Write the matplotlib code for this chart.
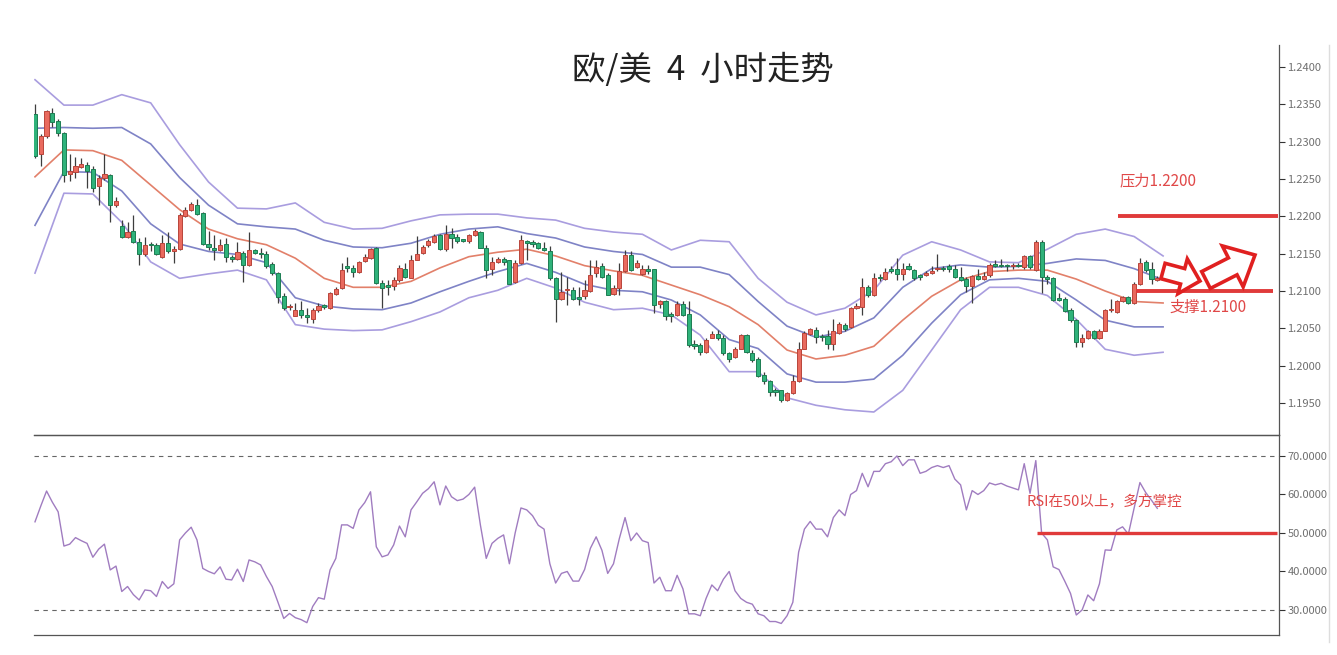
import matplotlib
matplotlib.use("Agg")
import matplotlib.pyplot as plt
import numpy as np
from matplotlib.patches import FancyArrow
from matplotlib.lines import Line2D

plt.rcParams['font.family'] = ['Noto Sans CJK SC', 'DejaVu Sans']

# ---------------- data (EUR/USD 4H) ----------------
opens = [1.2337,1.2283,1.2307,1.2338,1.2328,1.2311,1.2257,1.2259,1.2266,1.2269,
         1.2263,1.2240,1.2251,1.2255,1.2215,1.2187,1.2173,1.2180,1.2166,1.2150,
         1.2163,1.2161,1.2146,1.2164,1.2153,1.2156,1.2200,1.2208,1.2215,1.2204,
         1.2163,1.2158,1.2155,1.2163,1.2145,1.2143,1.2151,1.2135,1.2155,1.2151,
         1.2149,1.2136,1.2124,1.2094,1.2078,1.2067,1.2074,1.2068,1.2063,1.2075,
         1.2081,1.2077,1.2096,1.2104,1.2133,1.2131,1.2125,1.2140,1.2144,1.2157,
         1.2111,1.2107,1.2107,1.2115,1.2130,1.2118,1.2142,1.2151,1.2161,1.2166,
         1.2175,1.2156,1.2177,1.2173,1.2169,1.2167,1.2175,1.2179,1.2158,1.2130,
         1.2139,1.2143,1.2141,1.2112,1.2137,1.2167,1.2165,1.2164,1.2157,1.2154,
         1.2117,1.2090,1.2101,1.2102,1.2091,1.2093,1.2100,1.2124,1.2133,1.2121,
         1.2096,1.2104,1.2127,1.2148,1.2132,1.2123,1.2129,1.2129,1.2083,1.2086,
         1.2068,1.2068,1.2083,1.2069,1.2029,1.2028,1.2019,1.2037,1.2043,1.2037,
         1.2017,1.2011,1.2023,1.2041,1.2017,1.2009,1.1987,1.1979,1.1967,1.1967,
         1.1954,1.1963,1.1979,1.2023,1.2042,1.2048,1.2040,1.2040,1.2029,1.2044,
         1.2055,1.2052,1.2077,1.2078,1.2105,1.2095,1.2118,1.2116,1.2128,1.2129,
         1.2123,1.2133,1.2128,1.2121,1.2121,1.2124,1.2129,1.2131,1.2133,1.2130,
         1.2119,1.2116,1.2107,1.2120,1.2116,1.2121,1.2136,1.2135,1.2134,1.2133,
         1.2134,1.2132,1.2147,1.2128,1.2166,1.2119,1.2117,1.2090,1.2090,1.2075,
         1.2061,1.2032,1.2037,1.2046,1.2037,1.2047,1.2074,1.2072,1.2087,1.2092,
         1.2084,1.2109,1.2139,1.2129,1.2115]
highs = [1.2350,1.2310,1.2342,1.2345,1.2331,1.2313,1.2283,1.2279,1.2278,1.2273,
         1.2267,1.2255,1.2284,1.2257,1.2226,1.2195,1.2193,1.2202,1.2171,1.2173,
         1.2166,1.2165,1.2175,1.2179,1.2160,1.2204,1.2213,1.2219,1.2223,1.2206,
         1.2180,1.2175,1.2170,1.2171,1.2148,1.2166,1.2153,1.2179,1.2156,1.2157,
         1.2153,1.2139,1.2126,1.2097,1.2082,1.2084,1.2086,1.2077,1.2077,1.2084,
         1.2083,1.2099,1.2106,1.2137,1.2146,1.2135,1.2140,1.2149,1.2158,1.2159,
         1.2115,1.2115,1.2119,1.2135,1.2137,1.2148,1.2174,1.2162,1.2170,1.2176,
         1.2177,1.2189,1.2184,1.2176,1.2170,1.2177,1.2183,1.2180,1.2162,1.2146,
         1.2146,1.2146,1.2142,1.2142,1.2175,1.2168,1.2168,1.2166,1.2166,1.2160,
         1.2119,1.2126,1.2119,1.2106,1.2106,1.2115,1.2142,1.2141,1.2137,1.2124,
         1.2108,1.2137,1.2155,1.2154,1.2142,1.2135,1.2135,1.2130,1.2088,1.2088,
         1.2072,1.2086,1.2086,1.2086,1.2034,1.2030,1.2037,1.2046,1.2048,1.2041,
         1.2019,1.2025,1.2043,1.2043,1.2021,1.2012,1.1991,1.1981,1.1970,1.1968,
         1.1965,1.1988,1.2032,1.2047,1.2050,1.2052,1.2043,1.2048,1.2063,1.2058,
         1.2057,1.2079,1.2084,1.2117,1.2108,1.2124,1.2123,1.2131,1.2133,1.2144,
         1.2138,1.2138,1.2130,1.2123,1.2127,1.2133,1.2150,1.2134,1.2136,1.2135,
         1.2132,1.2119,1.2122,1.2129,1.2125,1.2138,1.2141,1.2143,1.2136,1.2138,
         1.2138,1.2148,1.2148,1.2169,1.2169,1.2121,1.2119,1.2097,1.2092,1.2077,
         1.2063,1.2043,1.2048,1.2048,1.2049,1.2076,1.2090,1.2088,1.2094,1.2094,
         1.2112,1.2144,1.2142,1.2139,1.2120]
lows = [1.2278,1.2267,1.2305,1.2320,1.2308,1.2246,1.2248,1.2251,1.2265,1.2238,
        1.2233,1.2215,1.2249,1.2193,1.2213,1.2171,1.2171,1.2164,1.2135,1.2147,
        1.2153,1.2148,1.2144,1.2151,1.2137,1.2155,1.2199,1.2207,1.2202,1.2162,
        1.2155,1.2142,1.2153,1.2139,1.2139,1.2141,1.2112,1.2134,1.2149,1.2144,
        1.2131,1.2121,1.2084,1.2075,1.2075,1.2066,1.2064,1.2057,1.2057,1.2072,
        1.2076,1.2076,1.2095,1.2103,1.2125,1.2119,1.2124,1.2139,1.2143,1.2110,
        1.2077,1.2095,1.2101,1.2112,1.2117,1.2117,1.2141,1.2149,1.2159,1.2165,
        1.2155,1.2153,1.2157,1.2165,1.2166,1.2164,1.2174,1.2157,1.2117,1.2121,
        1.2137,1.2135,1.2109,1.2111,1.2136,1.2141,1.2159,1.2156,1.2154,1.2115,
        1.2059,1.2088,1.2081,1.2088,1.2081,1.2090,1.2099,1.2119,1.2118,1.2095,
        1.2095,1.2095,1.2126,1.2127,1.2131,1.2121,1.2123,1.2070,1.2077,1.2061,
        1.2059,1.2066,1.2066,1.2025,1.2022,1.2014,1.2017,1.2037,1.2035,1.2014,
        1.2005,1.2010,1.2022,1.2017,1.2005,1.1985,1.1976,1.1959,1.1959,1.1952,
        1.1953,1.1962,1.1978,1.2022,1.2041,1.2030,1.2033,1.2023,1.2021,1.2043,
        1.2047,1.2051,1.2076,1.2068,1.2092,1.2094,1.2114,1.2115,1.2124,1.2115,
        1.2115,1.2128,1.2115,1.2115,1.2120,1.2123,1.2127,1.2127,1.2126,1.2117,
        1.2113,1.2099,1.2084,1.2115,1.2115,1.2119,1.2132,1.2132,1.2127,1.2130,
        1.2132,1.2130,1.2130,1.2127,1.2097,1.2110,1.2087,1.2086,1.2072,1.2059,
        1.2025,1.2025,1.2036,1.2036,1.2036,1.2046,1.2072,1.2071,1.2085,1.2082,
        1.2083,1.2108,1.2126,1.2110,1.2113]
closes = [1.2281,1.2307,1.2341,1.2327,1.2311,1.2256,1.2261,1.2267,1.2270,1.2261,
          1.2238,1.2251,1.2257,1.2215,1.2221,1.2173,1.2179,1.2166,1.2150,1.2161,
          1.2161,1.2149,1.2164,1.2153,1.2156,1.2202,1.2209,1.2216,1.2203,1.2163,
          1.2159,1.2155,1.2162,1.2145,1.2143,1.2152,1.2135,1.2155,1.2151,1.2149,
          1.2134,1.2124,1.2092,1.2077,1.2080,1.2074,1.2068,1.2065,1.2075,1.2080,
          1.2078,1.2098,1.2103,1.2128,1.2131,1.2125,1.2139,1.2145,1.2156,1.2111,
          1.2104,1.2106,1.2115,1.2131,1.2119,1.2142,1.2149,1.2159,1.2167,1.2174,
          1.2156,1.2177,1.2171,1.2167,1.2167,1.2175,1.2180,1.2158,1.2128,1.2139,
          1.2143,1.2139,1.2110,1.2138,1.2168,1.2165,1.2163,1.2157,1.2155,1.2117,
          1.2089,1.2099,1.2102,1.2090,1.2090,1.2101,1.2121,1.2132,1.2119,1.2095,
          1.2104,1.2127,1.2148,1.2128,1.2138,1.2130,1.2127,1.2081,1.2086,1.2067,
          1.2067,1.2083,1.2068,1.2028,1.2026,1.2019,1.2035,1.2042,1.2037,1.2017,
          1.2009,1.2023,1.2041,1.2019,1.2008,1.1986,1.1979,1.1965,1.1965,1.1954,
          1.1964,1.1979,1.2023,1.2044,1.2049,1.2038,1.2038,1.2029,1.2047,1.2056,
          1.2049,1.2077,1.2080,1.2105,1.2095,1.2118,1.2117,1.2126,1.2127,1.2123,
          1.2130,1.2130,1.2118,1.2119,1.2124,1.2127,1.2131,1.2129,1.2130,1.2119,
          1.2115,1.2107,1.2120,1.2116,1.2120,1.2135,1.2134,1.2133,1.2133,1.2135,
          1.2133,1.2147,1.2132,1.2166,1.2119,1.2116,1.2088,1.2088,1.2073,1.2061,
          1.2032,1.2037,1.2046,1.2037,1.2047,1.2074,1.2075,1.2087,1.2092,1.2084,
          1.2110,1.2138,1.2128,1.2116,1.2118]

# Bollinger bands, read every 5 bars
band_idx = list(range(0, 196, 5))
band_outer_up = [1.2383,1.2349,1.2349,1.2363,1.2352,1.2296,1.2246,1.2211,1.2210,1.2218,
                 1.2192,1.2183,1.2184,1.2194,1.2202,1.2203,1.2203,1.2198,1.2195,1.2184,
                 1.2179,1.2176,1.2155,1.2168,1.2166,1.2117,1.2085,1.2068,1.2077,1.2101,
                 1.2148,1.2166,1.2155,1.2139,1.2138,1.2156,1.2176,1.2183,1.2173,1.2147]
band_inner_up = [1.2318,1.2319,1.2318,1.2319,1.2297,1.2252,1.2215,1.2190,1.2186,1.2183,
                 1.2168,1.2159,1.2158,1.2164,1.2176,1.2183,1.2186,1.2177,1.2171,1.2159,
                 1.2153,1.2149,1.2132,1.2132,1.2122,1.2086,1.2053,1.2038,1.2046,1.2064,
                 1.2105,1.2130,1.2135,1.2132,1.2133,1.2137,1.2143,1.2141,1.2130,1.2115]
band_mid = [1.2253,1.2289,1.2288,1.2275,1.2242,1.2209,1.2183,1.2170,1.2162,1.2144,
            1.2117,1.2105,1.2105,1.2113,1.2131,1.2146,1.2152,1.2156,1.2147,1.2134,
            1.2127,1.2121,1.2108,1.2095,1.2079,1.2055,1.2021,1.2009,1.2014,1.2026,
            1.2061,1.2093,1.2115,1.2126,1.2128,1.2128,1.2116,1.2100,1.2086,1.2084]
band_inner_low = [1.2188,1.2260,1.2259,1.2234,1.2190,1.2163,1.2153,1.2149,1.2138,1.2091,
                  1.2080,1.2076,1.2075,1.2084,1.2099,1.2113,1.2126,1.2137,1.2125,1.2109,
                  1.2101,1.2099,1.2088,1.2068,1.2035,1.2023,1.1989,1.1978,1.1978,1.1982,
                  1.2014,1.2057,1.2095,1.2115,1.2117,1.2113,1.2088,1.2061,1.2052,1.2052]
band_outer_low = [1.2124,1.2231,1.2230,1.2192,1.2139,1.2117,1.2123,1.2128,1.2115,1.2055,
                  1.2049,1.2047,1.2048,1.2059,1.2072,1.2091,1.2101,1.2117,1.2104,1.2085,
                  1.2075,1.2077,1.2068,1.2041,1.1992,1.1992,1.1957,1.1947,1.1941,1.1938,
                  1.1967,1.2021,1.2075,1.2105,1.2105,1.2094,1.2062,1.2022,1.2014,1.2018]

rsi = [52.9,57.0,60.9,58.0,55.5,46.6,47.1,48.8,48.0,47.3,
       43.7,45.8,47.1,40.4,41.4,34.8,36.1,34.0,32.6,35.2,
       35.0,33.5,37.4,35.6,36.8,48.2,50.0,51.5,48.2,40.8,
       40.0,39.4,41.2,38.0,37.8,40.6,37.4,43.0,42.5,41.7,
       38.7,36.1,32.0,27.8,29.1,28.0,27.5,26.7,30.9,33.2,
       32.8,40.4,43.4,52.1,52.1,51.2,56.0,57.9,60.7,46.4,
       43.8,44.3,46.9,51.8,49.0,56.0,58.1,60.3,61.5,63.3,
       57.3,62.2,59.4,58.4,58.8,60.0,61.9,52.0,43.4,47.3,
       48.6,49.5,42.0,50.0,56.5,56.0,54.5,52.0,51.0,42.0,
       37.0,39.5,40.0,37.5,37.5,40.5,46.0,49.0,45.5,39.5,
       42.0,48.5,54.0,48.0,50.0,48.0,47.5,37.0,38.5,35.0,
       35.0,39.0,35.5,29.0,29.0,28.5,33.0,36.5,35.0,38.0,
       40.0,35.0,33.0,32.0,31.5,29.0,28.5,27.0,27.0,26.5,
       28.5,32.0,45.0,51.0,53.0,51.0,51.0,49.0,54.0,56.0,
       54.5,60.0,61.0,65.5,62.0,66.0,66.0,68.0,68.5,70.0,
       67.5,69.0,69.0,65.5,66.0,67.0,67.5,67.0,67.5,64.0,
       62.5,56.0,61.0,60.0,61.0,63.0,62.5,62.9,62.2,61.7,
       61.2,68.0,60.3,68.8,50.0,48.2,41.2,40.5,37.5,34.3,
       28.7,30.0,33.9,32.4,36.8,45.6,45.5,50.8,51.6,49.7,
       56.5,63.1,60.5,58.5,56.4]

price_ticks = [1.1950, 1.2000, 1.2050, 1.2100, 1.2150, 1.2200, 1.2250, 1.2300, 1.2350, 1.2400]
rsi_ticks = [30, 40, 50, 60, 70]
resistance = 1.2200
support = 1.2100
rsi_level = 50
title = "欧/美  4  小时走势"

# ---------------- figure ----------------
W, H = 1337, 655
fig = plt.figure(figsize=(W / 100, H / 100), dpi=100)
fig.patch.set_facecolor('white')

def fy(py):
    return 1 - py / H

ax = fig.add_axes([34 / W, fy(435), (1279 - 34) / W, (435 - 45) / H])
ax2 = fig.add_axes([34 / W, fy(635), (1279 - 34) / W, (635 - 435) / H])

n = len(closes)
x = np.arange(n)
o = np.array(opens); h = np.array(highs); l = np.array(lows); c = np.array(closes)
up = c >= o

red_fc, red_ec = '#e96a5e', '#b9453b'
grn_fc, grn_ec = '#2fb27a', '#1d7d52'

ax.vlines(x, l, h, color='#3d3d3d', lw=0.9, zorder=2)
body_lo = np.minimum(o, c)
body_h = np.maximum(np.abs(c - o), 0.00022)
ax.bar(x, body_h, bottom=body_lo, width=0.72,
       color=np.where(up, red_fc, grn_fc), edgecolor=np.where(up, red_ec, grn_ec),
       linewidth=0.7, zorder=3)

bx = np.array(band_idx)
ax.plot(bx, band_outer_up, color='#a99ddf', lw=1.2, zorder=1)
ax.plot(bx, band_outer_low, color='#a99ddf', lw=1.2, zorder=1)
ax.plot(bx, band_inner_up, color='#7f83c6', lw=1.2, zorder=1)
ax.plot(bx, band_inner_low, color='#7f83c6', lw=1.2, zorder=1)
ax.plot(bx, band_mid, color='#e2806a', lw=1.2, zorder=1)

xmin_px, xmax_px, step = 35, 1279, 5.785
xlim = (-(xmin_px - 34) / step, (xmax_px - xmin_px) / step)
for a in (ax, ax2):
    a.set_xlim(*xlim)
    a.set_xticks([])
    a.yaxis.tick_right()
    a.tick_params(axis='y', colors='#333333', labelcolor='#707070', labelsize=8,
                  length=4, width=0.8, pad=2)
    a.spines['left'].set_visible(False)
    for s in ('right', 'bottom', 'top'):
        a.spines[s].set_color('#555555')
        a.spines[s].set_linewidth(0.9)
    a.set_facecolor('none')

ax.spines['top'].set_visible(False)
ax.set_ylim(1.19072, 1.24295)
ax.set_yticks(price_ticks)
ax.set_yticklabels([f"{t:.4f}" for t in price_ticks])

ax2.set_ylim(23.5, 75.45)
ax2.set_yticks(rsi_ticks)
ax2.set_yticklabels([f"{t:.4f}" for t in rsi_ticks])
ax2.plot(x, rsi, color='#a07cc0', lw=1.0, zorder=2)
for lvl in (30, 70):
    ax2.axhline(lvl, color='#666666', lw=0.8, dashes=(4, 4), zorder=1)

def px2i(px):
    return (px - xmin_px) / step

ax.hlines(resistance, px2i(1118), px2i(1278), color='#e03a3a', lw=2.8, zorder=4)
ax.hlines(support, px2i(1136), px2i(1273), color='#e03a3a', lw=2.8, zorder=4)
ax2.hlines(rsi_level, px2i(1037), px2i(1277), color='#e03a3a', lw=2.4, zorder=4)

fig.text(703 / W, fy(70), title, ha='center', va='center', fontsize=24, color='#222222')
fig.text(1120 / W, fy(181), "压力1.2200", ha='left', va='center', fontsize=11, color='#e04848')
fig.text(1170 / W, fy(307), "支撑1.2100", ha='left', va='center', fontsize=11, color='#e04848')
fig.text(1027 / W, fy(502), "RSI在50以上，多方掌控", ha='left', va='center', fontsize=10.5, color='#e04848')

ov = fig.add_axes([0, 0, 1, 1])
ov.set_xlim(0, W); ov.set_ylim(H, 0); ov.axis('off'); ov.set_facecolor('none')
ov.add_patch(FancyArrow(1163, 271, 37, 10, width=16, head_width=36, head_length=18,
                        length_includes_head=True, fc='white', ec='#e02020', lw=2.6, zorder=6))
ov.add_patch(FancyArrow(1206, 280, 49, -25, width=19, head_width=46, head_length=25,
                        length_includes_head=True, fc='white', ec='#e02020', lw=2.6, zorder=6))

fig.add_artist(Line2D([1329 / W, 1329 / W], [fy(45), fy(642)], color='#dddddd', lw=1))

fig.savefig('out.png', dpi=100, facecolor='white')
